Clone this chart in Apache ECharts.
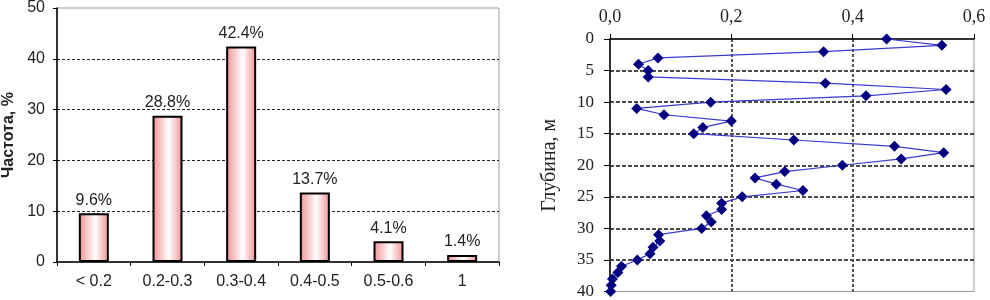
<!DOCTYPE html>
<html><head><meta charset="utf-8">
<script src="https://cdn.jsdelivr.net/npm/echarts@6/dist/echarts.min.js"></script>
<style>html,body{margin:0;padding:0;background:#fff}#c{width:990px;height:300px}</style>
</head><body><div id="c"></div>
<script>
var categories = ['< 0.2', '0.2-0.3', '0.3-0.4', '0.4-0.5', '0.5-0.6', '1'];
var frequency = [9.6, 28.8, 42.4, 13.7, 4.1, 1.4];
var depths = [0,1,2,3,4,5,6,7,8,9,10,11,12,13,14,15,16,17,18,19,20,21,22,23,24,25,26,27,28,29,30,31,32,33,34,35,36,37,38,39,40];
var values = [0.456,0.547,0.352,0.079,0.047,0.063,0.063,0.355,0.554,0.422,0.166,0.044,0.089,0.200,0.153,0.138,0.303,0.469,0.550,0.480,0.383,0.288,0.239,0.274,0.318,0.218,0.184,0.184,0.159,0.167,0.151,0.080,0.082,0.071,0.066,0.045,0.019,0.013,0.004,0.002,0.001];

var chart = echarts.init(document.getElementById('c'), null, {renderer:'canvas'});
var sans = 'Liberation Sans, Arial, sans-serif';
var serif = 'Liberation Serif, Times New Roman, serif';
chart.setOption({
  animation: false,
  grid: [
    {left: 52, top: 8, width: 447, height: 254, show: true, borderColor: '#9a9a9a', borderWidth: 1, backgroundColor: '#fff'},
    {left: 610, top: 39, width: 364, height: 253, show: true, borderColor: '#9a9a9a', borderWidth: 1, backgroundColor: '#fff'}
  ],
  xAxis: [
    {type: 'category', gridIndex: 0, data: categories,
     axisLine: {lineStyle: {color: '#000', width: 1.5}},
     axisTick: {show: true, length: 4, lineStyle: {color: '#000'}},
     axisLabel: {fontFamily: sans, fontSize: 16, color: '#222', margin: 12},
     splitLine: {show: false}},
    {type: 'value', gridIndex: 1, position: 'top', min: 0, max: 0.6, interval: 0.2,
     axisLine: {show: true, onZero: false, lineStyle: {color: '#000', width: 1.5}},
     axisTick: {show: true, length: 5, lineStyle: {color: '#000'}},
     axisLabel: {fontFamily: serif, fontSize: 18, color: '#222', margin: 13,
       formatter: function (v) { return v.toFixed(1).replace('.', ','); }},
     splitLine: {show: true, lineStyle: {color: ['transparent', '#555', '#555', 'transparent'], type: [3, 2], width: 2}}}
  ],
  yAxis: [
    {type: 'value', gridIndex: 0, min: 0, max: 50, interval: 10,
     name: 'Частота, %', nameLocation: 'middle', nameRotate: 90, nameGap: 40,
     nameTextStyle: {fontFamily: sans, fontSize: 16, fontWeight: 'bold', color: '#222'},
     axisLine: {show: true, lineStyle: {color: '#000', width: 1.5}},
     axisTick: {show: true, length: 4, lineStyle: {color: '#000'}},
     axisLabel: {fontFamily: sans, fontSize: 16, color: '#222', margin: 12},
     splitLine: {show: true, lineStyle: {color: ['transparent', '#222', '#222', '#222', '#222', 'transparent'], type: [3, 2], width: 1}}},
    {type: 'value', gridIndex: 1, inverse: true, min: 0, max: 40, interval: 5,
     name: 'Глубина, м', nameLocation: 'middle', nameRotate: 90, nameGap: 50,
     nameTextStyle: {fontFamily: serif, fontSize: 20, color: '#222'},
     axisLine: {show: true, onZero: false, lineStyle: {color: '#000', width: 1.5}},
     axisTick: {show: true, length: 5, lineStyle: {color: '#000'}},
     axisLabel: {fontFamily: serif, fontSize: 17, color: '#222', margin: 16},
     splitLine: {show: true, lineStyle: {color: ['transparent', '#111', '#111', '#111', '#111', '#111', '#111', '#111', 'transparent'], type: [4, 2], width: 1.5}}},
    {type: 'value', gridIndex: 1, inverse: true, min: 0, max: 40, interval: 5,
     axisLine: {show: false}, axisTick: {show: true, inside: true, length: 6, lineStyle: {color: '#000'}},
     axisLabel: {show: false}, splitLine: {show: false}}
  ],
  series: [
    {type: 'bar', xAxisIndex: 0, yAxisIndex: 0, data: frequency, barWidth: 30,
     itemStyle: {
       color: new echarts.graphic.LinearGradient(0, 0, 1, 0, [
         {offset: 0, color: '#f09090'}, {offset: 0.55, color: '#ffffff'}, {offset: 1, color: '#f09090'}]),
       borderColor: '#000', borderWidth: 2},
     label: {show: true, position: 'top', distance: 5, fontFamily: sans, fontSize: 16, color: '#222',
       formatter: function (p) { return p.value + '%'; }}},
    {type: 'line', xAxisIndex: 1, yAxisIndex: 1,
     data: depths.map(function (d, i) { return [values[i], d]; }),
     symbol: 'diamond', symbolSize: 11, showSymbol: true,
     lineStyle: {color: '#3a3ad0', width: 1.2},
     itemStyle: {color: '#000080'}}
  ]
});
</script></body></html>
